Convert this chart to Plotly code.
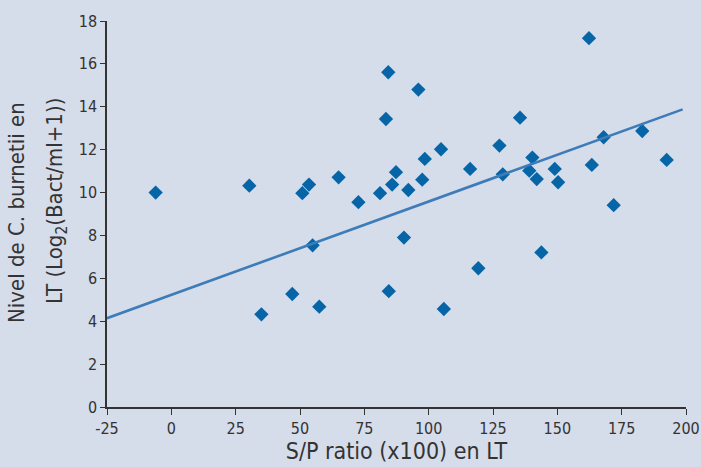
import plotly.graph_objects as go

sp_ratio = [-6.1, 30.3, 35.0, 47.0, 50.9, 53.5, 54.9, 57.5, 65.0, 72.7,
            81.1, 83.4, 84.3, 84.5, 85.8, 87.3, 90.4, 92.1, 96.0, 97.5,
            98.5, 104.8, 105.9, 116.1, 119.3, 127.5, 128.8, 135.5, 139.1, 140.3,
            142.0, 143.8, 149.0, 150.3, 162.3, 163.4, 168.0, 171.9, 183.0, 192.5]
nivel = [10.0, 10.32, 4.32, 5.27, 9.97, 10.37, 7.54, 4.68, 10.71, 9.55,
         9.97, 13.43, 15.61, 5.4, 10.37, 10.95, 7.9, 10.12, 14.8, 10.6,
         11.57, 12.02, 4.57, 11.1, 6.47, 12.19, 10.85, 13.49, 11.02, 11.63,
         10.63, 7.21, 11.1, 10.48, 17.2, 11.29, 12.58, 9.41, 12.87, 11.52]

line_x = [-25, 198.7]
line_y = [4.14, 13.88]

x_ticks = [-25, 0, 25, 50, 75, 100, 125, 150, 175, 200]
y_ticks = [0, 2, 4, 6, 8, 10, 12, 14, 16, 18]

x_title = "S/P ratio (x100) en LT"
y_title_lines = ["Nivel de C. burnetii en", "LT (Log<sub>2</sub>(Bact/ml+1))"]

bg = "#d5dcea"
text_color = "#333333"
font_family = "DejaVu Sans Condensed, Liberation Sans Narrow, sans-serif"

fig = go.Figure()
fig.add_trace(go.Scatter(x=sp_ratio, y=nivel, mode="markers",
                         marker=dict(symbol="diamond", size=11, color="#0565a6"),
                         showlegend=False, hoverinfo="skip"))
fig.add_trace(go.Scatter(x=line_x, y=line_y, mode="lines",
                         line=dict(color="#3d7bb9", width=2.6),
                         showlegend=False, hoverinfo="skip"))

fig.update_layout(
    width=701, height=467,
    margin=dict(l=107, r=15, t=21, b=60),
    paper_bgcolor=bg, plot_bgcolor=bg,
    font=dict(family=font_family, color=text_color, size=16),
    xaxis=dict(range=[-25, 200], tickvals=x_ticks, ticktext=[str(v) for v in x_ticks],
               showgrid=False, zeroline=False, showline=True, linecolor=text_color,
               linewidth=1.5, ticks="outside", ticklen=6, tickcolor=text_color,
               tickfont=dict(size=16), automargin=False,
               title=dict(text=x_title, font=dict(size=23), standoff=0)),
    yaxis=dict(range=[0, 18], tickvals=y_ticks, ticktext=[str(v) for v in y_ticks],
               showgrid=False, zeroline=False, showline=True, linecolor=text_color,
               linewidth=1.5, ticks="outside", ticklen=5, tickcolor=text_color,
               tickfont=dict(size=16), automargin=False),
    annotations=[
        dict(text=y_title_lines[0], xref="paper", yref="paper", x=-0.1554, y=0.5026,
             xanchor="center", yanchor="middle", textangle=-90, showarrow=False,
             font=dict(size=22, color=text_color)),
        dict(text=y_title_lines[1], xref="paper", yref="paper", x=-0.0864, y=0.5337,
             xanchor="center", yanchor="middle", textangle=-90, showarrow=False,
             font=dict(size=22, color=text_color)),
    ],
)

fig.write_html(
    "out.html",
    config={"displayModeBar": False},
    post_script="document.body.style.margin='0';document.body.style.background='" + bg + "';",
)
